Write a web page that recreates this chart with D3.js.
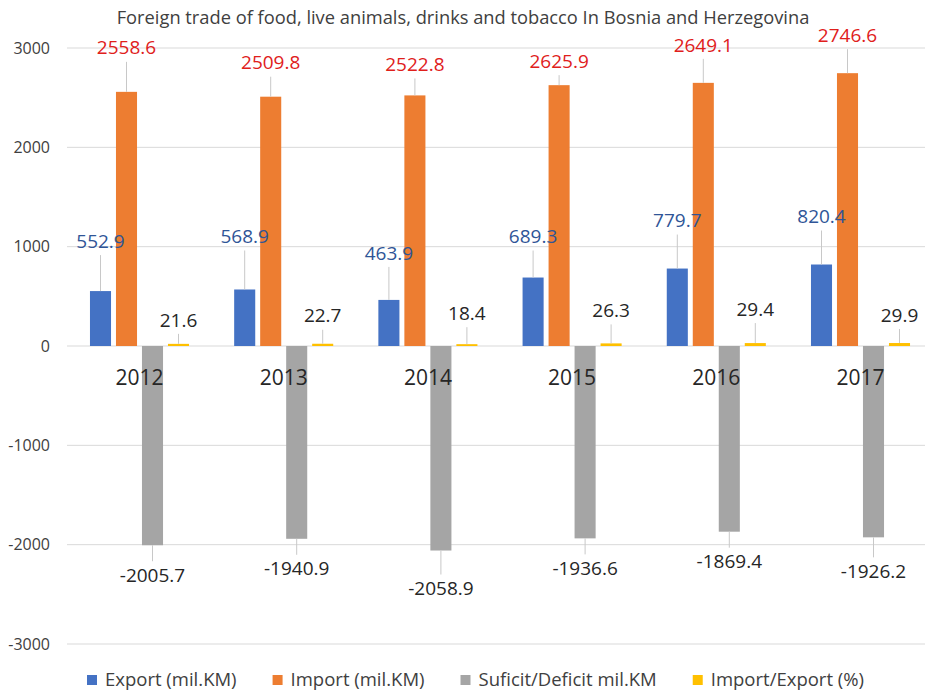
<!DOCTYPE html>
<html>
<head>
<meta charset="utf-8">
<script src="https://cdn.jsdelivr.net/npm/d3@7"></script>
<style>
  body { margin: 0; background: #fff; }
  svg { display: block; font-family: 'Open Sans', sans-serif; }
</style>
</head>
<body>
<svg id="chart" width="927" height="692"></svg>
<script>
const years = ['2012', '2013', '2014', '2015', '2016', '2017']
const exportVals = [552.9, 568.9, 463.9, 689.3, 779.7, 820.4]
const importVals = [2558.6, 2509.8, 2522.8, 2625.9, 2649.1, 2746.6]
const balanceVals = [-2005.7, -1940.9, -2058.9, -1936.6, -1869.4, -1926.2]
const ratioVals = [21.6, 22.7, 18.4, 26.3, 29.4, 29.9]
const seriesNames = ['Export (mil.KM)', 'Import (mil.KM)', 'Suficit/Deficit mil.KM', 'Import/Export (%)']
const yTicks = [-3000, -2000, -1000, 0, 1000, 2000, 3000]
const title = 'Foreign trade of food, live animals, drinks and tobacco In Bosnia and Herzegovina'

// how far (px) each data label was dragged away from the end of its bar
const labelGaps = [
  [50, 53, 47, 41, 48, 48],
  [44, 34, 31, 24, 38, 38],
  [30, 30, 38, 30, 30, 34],
  [24, 28, 31, 33, 34, 28]
]

const colours = ['#4472c4', '#ed7d31', '#a5a5a5', '#ffc000']
const labelColours = ['#2f5597', '#e0201b', '#262626', '#262626']

const series = [exportVals, importVals, balanceVals, ratioVals]
const svg = d3.select('svg#chart')

const x0 = d3.scaleBand()
  .domain(years)
  .range([67.4, 932.6])

const x1 = d3.scaleBand()
  .domain(d3.range(series.length))
  .range([0, x0.bandwidth()])
  .paddingInner(0.19)
  .paddingOuter(0.868)

const y = d3.scaleLinear()
  .domain([-3000, 3000])
  .range([644, 48])

// title
svg.append('text')
  .attr('x', 463)
  .attr('y', 18)
  .attr('dy', '0.35em')
  .attr('text-anchor', 'middle')
  .attr('font-size', 18.3)
  .attr('fill', '#404040')
  .text(title)

// gridlines + tick labels
const grid = svg.append('g')
grid.selectAll('line')
  .data(yTicks)
  .join('line')
  .attr('x1', 67)
  .attr('x2', 925)
  .attr('y1', d => y(d))
  .attr('y2', d => y(d))
  .attr('stroke', '#d9d9d9')
  .attr('stroke-width', 1)

grid.selectAll('text')
  .data(yTicks)
  .join('text')
  .attr('x', 50)
  .attr('y', d => y(d))
  .attr('dy', '0.35em')
  .attr('text-anchor', 'end')
  .attr('font-size', 16)
  .attr('fill', '#404040')
  .text(d => d)

// flatten into one record per bar
const bars = []
series.forEach((vals, s) => {
  vals.forEach((v, i) => {
    bars.push({ s, year: years[i], value: v, gap: labelGaps[s][i] })
  })
})

const barX = d => x0(d.year) + x1(d.s)
const barEnd = d => y(d.value)

svg.append('g')
  .selectAll('rect')
  .data(bars)
  .join('rect')
  .attr('x', barX)
  .attr('width', x1.bandwidth())
  .attr('y', d => Math.min(y(0), y(d.value)))
  .attr('height', d => Math.abs(y(d.value) - y(0)))
  .attr('fill', d => colours[d.s])

// year labels sit just under the zero line, over the bars
svg.append('g')
  .selectAll('text')
  .data(years)
  .join('text')
  .attr('x', d => x0(d) + x0.bandwidth() / 2)
  .attr('y', y(0) + 32)
  .attr('dy', '0.35em')
  .attr('text-anchor', 'middle')
  .attr('font-size', 21)
  .attr('fill', '#262626')
  .text(d => d)

// data labels with leader lines
const labelY = d => d.value < 0 ? barEnd(d) + d.gap : barEnd(d) - d.gap
const LEAD = 14

const labels = svg.append('g')
labels.selectAll('line')
  .data(bars.filter(d => d.gap > LEAD + 2))
  .join('line')
  .attr('x1', d => barX(d) + x1.bandwidth() / 2)
  .attr('x2', d => barX(d) + x1.bandwidth() / 2)
  .attr('y1', barEnd)
  .attr('y2', d => d.value < 0 ? labelY(d) - LEAD : labelY(d) + LEAD)
  .attr('stroke', '#c8c8c8')
  .attr('stroke-width', 1)

labels.selectAll('text')
  .data(bars)
  .join('text')
  .attr('x', d => barX(d) + x1.bandwidth() / 2)
  .attr('y', labelY)
  .attr('dy', '0.35em')
  .attr('text-anchor', 'middle')
  .attr('font-size', 19)
  .attr('fill', d => labelColours[d.s])
  .text(d => d.value.toFixed(1))

// legend
const legend = svg.append('g')
let lx = 87
seriesNames.forEach((name, i) => {
  legend.append('rect')
    .attr('x', lx)
    .attr('y', 675)
    .attr('width', 10)
    .attr('height', 10)
    .attr('fill', colours[i])
  const t = legend.append('text')
    .attr('x', lx + 18)
    .attr('y', 680)
    .attr('dy', '0.35em')
    .attr('font-size', 18.5)
    .attr('fill', '#404040')
    .text(name)
  lx += 18 + t.node().getComputedTextLength() + 36
})
</script>
</body>
</html>
